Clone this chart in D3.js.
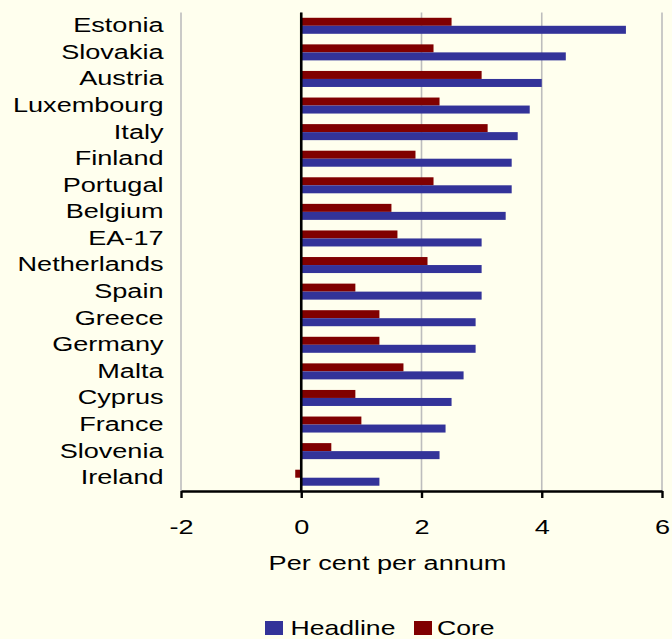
<!DOCTYPE html>
<html>
<head>
<meta charset="utf-8">
<script src="https://cdn.jsdelivr.net/npm/d3@7"></script>
<style>
  html, body { margin: 0; padding: 0; background: #FFFFEE; }
  svg { display: block; }
  text { font-family: "Liberation Sans", Arial, sans-serif; fill: #000; }
</style>
</head>
<body>
<svg id="chart" width="672" height="639"></svg>
<script>
// Inflation by country, per cent per annum
const countries = ["Estonia", "Slovakia", "Austria", "Luxembourg", "Italy", "Finland",
  "Portugal", "Belgium", "EA-17", "Netherlands", "Spain", "Greece", "Germany",
  "Malta", "Cyprus", "France", "Slovenia", "Ireland"];
const headline = [5.4, 4.4, 4.0, 3.8, 3.6, 3.5, 3.5, 3.4, 3.0, 3.0, 3.0, 2.9, 2.9, 2.7, 2.5, 2.4, 2.3, 1.3];
const core     = [2.5, 2.2, 3.0, 2.3, 3.1, 1.9, 2.2, 1.5, 1.6, 2.1, 0.9, 1.3, 1.3, 1.7, 0.9, 1.0, 0.5, -0.1];
const xTicks = [-2, 0, 2, 4, 6];
const seriesNames = ["Core", "Headline"];
const seriesColors = { Headline: "#333399", Core: "#800000" };

const STRETCH = 1.29;          // wide lettering
const FONT = 21;

const svg = d3.select("#chart");
const plotLeft = 181, plotRight = 662, plotTop = 12.5, plotBottom = 491;

const x = d3.scaleLinear().domain([-2, 6]).range([plotLeft, plotRight]);
const y = d3.scaleBand().domain(countries).range([plotTop, plotBottom]).padding(0);
const inner = d3.scaleBand().domain(seriesNames).range([0, y.bandwidth()])
  .paddingInner(0).paddingOuter(0.66);

const rows = countries.map((c, i) => ({ country: c, Headline: headline[i], Core: core[i] }));

// vertical gridlines
svg.append("g").selectAll("line").data(xTicks).join("line")
  .attr("x1", d => x(d)).attr("x2", d => x(d))
  .attr("y1", plotTop).attr("y2", plotBottom)
  .attr("stroke", "#BDBDBD").attr("stroke-width", 1.6);

// bars
const groups = svg.append("g").selectAll("g").data(rows).join("g")
  .attr("transform", d => `translate(0,${y(d.country)})`);
groups.selectAll("rect").data(d => seriesNames.map(s => ({ s, v: d[s] }))).join("rect")
  .attr("x", d => x(Math.min(0, d.v)))
  .attr("width", d => Math.abs(x(d.v) - x(0)))
  .attr("y", d => inner(d.s))
  .attr("height", inner.bandwidth())
  .attr("fill", d => seriesColors[d.s]);

// zero line
svg.append("line")
  .attr("x1", x(0)).attr("x2", x(0)).attr("y1", plotTop).attr("y2", plotBottom)
  .attr("stroke", "#000").attr("stroke-width", 2.6);

// category labels
svg.append("g").selectAll("text").data(countries).join("text")
  .attr("transform", d => `translate(163.5,${y(d) + y.bandwidth() / 2 + 6.4}) scale(${STRETCH},1)`)
  .attr("text-anchor", "end")
  .attr("font-size", FONT)
  .text(d => d);

// x axis
const xAxis = svg.append("g")
  .attr("transform", `translate(0,${plotBottom})`)
  .call(d3.axisBottom(x).tickValues(xTicks).tickSize(7).tickSizeOuter(0).tickFormat(d3.format("d")));
xAxis.select(".domain").attr("stroke", "#000").attr("stroke-width", 2.4);
xAxis.selectAll(".tick line").attr("stroke", "#000").attr("stroke-width", 2.4);
xAxis.selectAll(".tick text")
  .attr("y", 0).attr("dy", 0)
  .attr("transform", `translate(0,43) scale(${STRETCH},1)`)
  .attr("font-size", FONT)
  .attr("font-family", "\"Liberation Sans\", Arial, sans-serif")
  .attr("fill", "#000")
  .text(d => d < 0 ? "-" + Math.abs(d) : d);

// axis title
svg.append("text")
  .attr("transform", `translate(387.5,570) scale(${STRETCH},1)`)
  .attr("text-anchor", "middle")
  .attr("font-size", FONT)
  .text("Per cent per annum");

// legend
const legendItems = [
  { name: "Headline", sx: 265, tx: 290.5 },
  { name: "Core", sx: 414, tx: 437 }
];
const lg = svg.append("g");
lg.selectAll("rect").data(legendItems).join("rect")
  .attr("x", d => d.sx).attr("y", 621).attr("width", 18).attr("height", 14)
  .attr("fill", d => seriesColors[d.name]);
lg.selectAll("text").data(legendItems).join("text")
  .attr("transform", d => `translate(${d.tx},634.5) scale(1.33,1)`)
  .attr("font-size", 20)
  .text(d => d.name);
</script>
</body>
</html>
